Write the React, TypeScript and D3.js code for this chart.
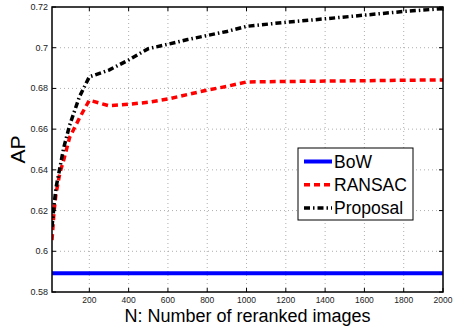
import { useMemo } from 'react';
import * as d3 from 'd3';

const nValues = [10, 20, 30, 50, 70, 100, 150, 200, 300, 400, 500, 600, 700, 800, 900, 1000, 1200, 1400, 1600, 1800, 2000];
const bowAP = [0.5892, 0.5892, 0.5892, 0.5892, 0.5892, 0.5892, 0.5892, 0.5892, 0.5892, 0.5892, 0.5892, 0.5892, 0.5892, 0.5892, 0.5892, 0.5892, 0.5892, 0.5892, 0.5892, 0.5892, 0.5892];
const ransacAP = [0.6055, 0.619, 0.628, 0.6385, 0.645, 0.656, 0.6655, 0.6742, 0.6715, 0.6722, 0.6732, 0.6748, 0.677, 0.6792, 0.681, 0.6832, 0.6834, 0.6836, 0.6838, 0.684, 0.6842];
const proposalAP = [0.612, 0.622, 0.631, 0.641, 0.651, 0.662, 0.676, 0.6857, 0.689, 0.694, 0.6995, 0.7017, 0.704, 0.706, 0.708, 0.7105, 0.7125, 0.7142, 0.716, 0.7178, 0.7192];
const xTicks = [200, 400, 600, 800, 1000, 1200, 1400, 1600, 1800, 2000];
const yTicks = [0.58, 0.6, 0.62, 0.64, 0.66, 0.68, 0.7, 0.72];
const seriesNames = ['BoW', 'RANSAC', 'Proposal'];

const width = 453;
const height = 328;
const margin = { top: 7, right: 10, bottom: 36, left: 52 };
const font = 'Liberation Sans, Arial, sans-serif';

export default function App() {
  const innerWidth = width - margin.left - margin.right;
  const innerHeight = height - margin.top - margin.bottom;

  const x = useMemo(() => d3.scaleLinear().domain([10, 2000]).range([0, innerWidth]), [innerWidth]);
  const y = useMemo(() => d3.scaleLinear().domain([0.58, 0.72]).range([innerHeight, 0]), [innerHeight]);

  const line = d3
    .line<[number, number]>()
    .x((d) => x(d[0]))
    .y((d) => y(d[1]));

  const toPts = (vals: number[]) => nValues.map((n, i) => [n, vals[i]] as [number, number]);

  const styles = [
    { color: '#0000ff', width: 4, dash: undefined as string | undefined, data: bowAP },
    { color: '#ff0000', width: 3.5, dash: '6,4', data: ransacAP },
    { color: '#000000', width: 3.5, dash: '6,3,1.5,3', data: proposalAP },
  ];

  const legend = { x: 298 - margin.left, y: 148 - margin.top, w: 115, h: 72 };

  return (
    <svg width={width} height={height} style={{ position: 'absolute', left: 0, top: 0, background: '#fff' }}>
      <g transform={`translate(${margin.left},${margin.top})`}>
        {/* grid */}
        {xTicks.slice(0, -1).map((t) => (
          <line key={'gx' + t} x1={x(t)} x2={x(t)} y1={0} y2={innerHeight} stroke="#999" strokeWidth={0.8} strokeDasharray="1,3" />
        ))}
        {yTicks.slice(1, -1).map((t) => (
          <line key={'gy' + t} x1={0} x2={innerWidth} y1={y(t)} y2={y(t)} stroke="#999" strokeWidth={0.8} strokeDasharray="1,3" />
        ))}

        {/* series */}
        <defs>
          <clipPath id="plot">
            <rect x={0} y={0} width={innerWidth} height={innerHeight} />
          </clipPath>
        </defs>
        <g clipPath="url(#plot)">
          {styles.map((s, i) => (
            <path key={i} d={line(toPts(s.data))!} fill="none" stroke={s.color} strokeWidth={s.width} strokeDasharray={s.dash} />
          ))}
        </g>

        {/* ticks */}
        {xTicks.map((t) => (
          <g key={'tx' + t}>
            <line x1={x(t)} x2={x(t)} y1={innerHeight} y2={innerHeight - 4} stroke="#000" />
            <line x1={x(t)} x2={x(t)} y1={0} y2={4} stroke="#000" />
            <text x={x(t)} y={innerHeight + 11} textAnchor="middle" fontFamily={font} fontSize={8.5} fill="#222">
              {t}
            </text>
          </g>
        ))}
        {yTicks.map((t) => (
          <g key={'ty' + t}>
            <line x1={0} x2={4} y1={y(t)} y2={y(t)} stroke="#000" />
            <line x1={innerWidth} x2={innerWidth - 4} y1={y(t)} y2={y(t)} stroke="#000" />
            <text x={-4} y={y(t) + 3} textAnchor="end" fontFamily={font} fontSize={9} fill="#222">
              {d3.format('')(t)}
            </text>
          </g>
        ))}

        {/* box */}
        <rect x={0} y={0} width={innerWidth} height={innerHeight} fill="none" stroke="#000" strokeWidth={1.5} />

        {/* legend */}
        <rect x={legend.x} y={legend.y} width={legend.w} height={legend.h} fill="#fff" stroke="#000" strokeWidth={1} />
        {styles.map((s, i) => {
          const ly = legend.y + 13.5 + i * 23.3;
          return (
            <g key={'lg' + i}>
              <line x1={legend.x + 6} x2={legend.x + 34} y1={ly} y2={ly} stroke={s.color} strokeWidth={s.width} strokeDasharray={s.dash} />
              <text x={legend.x + 36} y={ly + 6} fontFamily={font} fontSize={17.5} fill="#000">
                {seriesNames[i]}
              </text>
            </g>
          );
        })}
      </g>

      <text x={margin.left + innerWidth / 2} y={322} textAnchor="middle" fontFamily={font} fontSize={18} fill="#000">
        N: Number of reranked images
      </text>
      <text transform={`translate(25,${margin.top + innerHeight / 2}) rotate(-90)`} textAnchor="middle" fontFamily={font} fontSize={21} fill="#000">
        AP
      </text>
    </svg>
  );
}
